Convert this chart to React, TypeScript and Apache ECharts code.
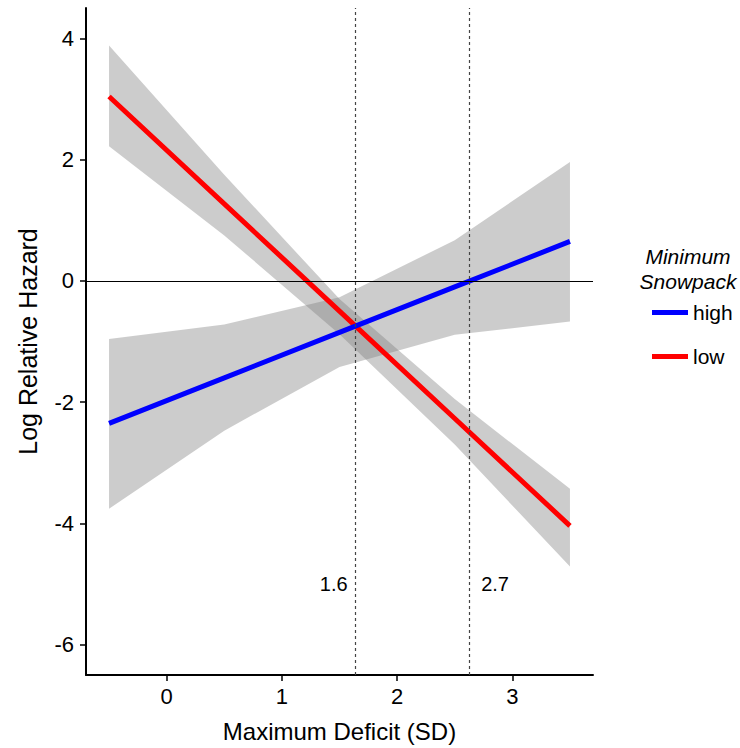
import React, { useEffect, useRef } from "react";
import * as echarts from "echarts";

// Prediction grid (Maximum Deficit, SD)
const X = [-0.5, 0.5, 1.5, 2.5, 3.5];
// Minimum snowpack = high
const HIGH_FIT = [-2.35, -1.6, -0.85, -0.1, 0.65];
const HIGH_UPPER = [-0.96, -0.72, -0.27, 0.67, 1.96];
const HIGH_LOWER = [-3.76, -2.47, -1.42, -0.89, -0.67];
// Minimum snowpack = low
const LOW_FIT = [3.04, 1.27, -0.5, -2.27, -4.04];
const LOW_UPPER = [3.88, 1.75, -0.3, -1.95, -3.43];
const LOW_LOWER = [2.22, 0.75, -0.88, -2.7, -4.71];

// Threshold lines and their labels
const THRESHOLDS = [1.64, 2.63];
const LABEL_X = [1.45, 2.85];
const LABEL_Y = [-5, -5];
const LABEL_TEXT = ["1.6", "2.7"];

const X_TICKS = [0, 1, 2, 3];
const Y_TICKS = [-6, -4, -2, 0, 2, 4];

const FONT = "'Liberation Sans', Arial, sans-serif";

function ribbon(name: string, upper: number[], lower: number[]) {
  return {
    type: "custom",
    name,
    silent: true,
    data: X.map((x, i) => [x, upper[i], lower[i]]),
    encode: { x: 0, y: [1, 2] },
    renderItem: (params: any, api: any) => {
      if (params.dataIndex !== 0) return null;
      const pts: number[][] = [];
      for (let i = 0; i < X.length; i++) pts.push(api.coord([X[i], upper[i]]));
      for (let i = X.length - 1; i >= 0; i--) pts.push(api.coord([X[i], lower[i]]));
      return {
        type: "polygon",
        shape: { points: pts },
        style: { fill: "rgba(127,127,127,0.4)" },
      };
    },
  };
}

export default function App() {
  const ref = useRef<HTMLDivElement>(null);
  useEffect(() => {
    if (!ref.current) return;
    const chart = echarts.init(ref.current, null, { renderer: "svg" });
    chart.setOption({
      animation: false,
      backgroundColor: "#fff",
      textStyle: { fontFamily: FONT },
      grid: { left: 86, right: 147, top: 8, bottom: 71, containLabel: false },
      xAxis: {
        type: "value",
        min: -0.7,
        max: 3.7,
        name: "Maximum Deficit (SD)",
        nameLocation: "middle",
        nameGap: 44,
        nameTextStyle: { fontSize: 24, color: "#000", fontFamily: FONT },
        axisLine: { show: true, onZero: false, lineStyle: { color: "#000", width: 2 } },
        axisTick: { show: true, length: 6, lineStyle: { color: "#000", width: 1.5 }, customValues: X_TICKS },
        axisLabel: { fontSize: 22, color: "#000", margin: 10, customValues: X_TICKS, fontFamily: FONT },
        splitLine: { show: false },
      },
      yAxis: {
        type: "value",
        min: -6.5,
        max: 4.5,
        name: "Log Relative Hazard",
        nameLocation: "middle",
        nameRotate: 90,
        nameGap: 46,
        nameTextStyle: { fontSize: 25, color: "#000", fontFamily: FONT },
        axisLine: { show: true, onZero: false, lineStyle: { color: "#000", width: 2 } },
        axisTick: { show: true, length: 6, lineStyle: { color: "#000", width: 1.5 }, customValues: Y_TICKS },
        axisLabel: { fontSize: 22, color: "#000", margin: 12, customValues: Y_TICKS, fontFamily: FONT },
        splitLine: { show: false },
      },
      legend: {
        data: ["high", "low"],
        orient: "vertical",
        left: 647,
        top: 297,
        itemWidth: 36,
        itemHeight: 5,
        itemGap: 23,
        icon: "rect",
        selectedMode: false,
        textStyle: { fontSize: 21, color: "#000", fontFamily: FONT },
      },
      graphic: [
        {
          type: "text",
          x: 688,
          y: 244,
          style: {
            text: "Minimum\nSnowpack",
            textAlign: "center",
            fontSize: 21,
            fontStyle: "italic",
            fontFamily: FONT,
            lineHeight: 25,
            fill: "#000",
          },
        },
      ],
      series: [
        ribbon("high band", HIGH_UPPER, HIGH_LOWER),
        ribbon("low band", LOW_UPPER, LOW_LOWER),
        {
          type: "scatter",
          name: "labels",
          symbolSize: 0,
          silent: true,
          itemStyle: { opacity: 1 },
          data: LABEL_X.map((x, i) => [x, LABEL_Y[i]]),
          label: {
            show: true,
            position: "inside",
            formatter: (p: any) => LABEL_TEXT[p.dataIndex],
            fontSize: 20,
            color: "#000",
            opacity: 1,
            fontFamily: FONT,
          },
          markLine: {
            silent: true,
            symbol: "none",
            label: { show: false },
            data: [
              ...THRESHOLDS.map((t) => ({
                xAxis: t,
                lineStyle: { color: "#444", type: [3, 3], width: 1.2 },
              })),
              { yAxis: 0, lineStyle: { color: "#000", type: "solid", width: 1 } },
            ],
          },
        },
        {
          type: "line",
          name: "low",
          data: X.map((x, i) => [x, LOW_FIT[i]]),
          showSymbol: false,
          symbol: "none",
          color: "#ff0000",
          lineStyle: { color: "#ff0000", width: 5 },
        },
        {
          type: "line",
          name: "high",
          data: X.map((x, i) => [x, HIGH_FIT[i]]),
          showSymbol: false,
          symbol: "none",
          color: "#0000ff",
          lineStyle: { color: "#0000ff", width: 5 },
        },
      ],
    });
    return () => chart.dispose();
  }, []);
  return (
    <div
      ref={ref}
      style={{ position: "fixed", left: 0, top: 0, width: 740, height: 748, background: "#fff" }}
    />
  );
}
